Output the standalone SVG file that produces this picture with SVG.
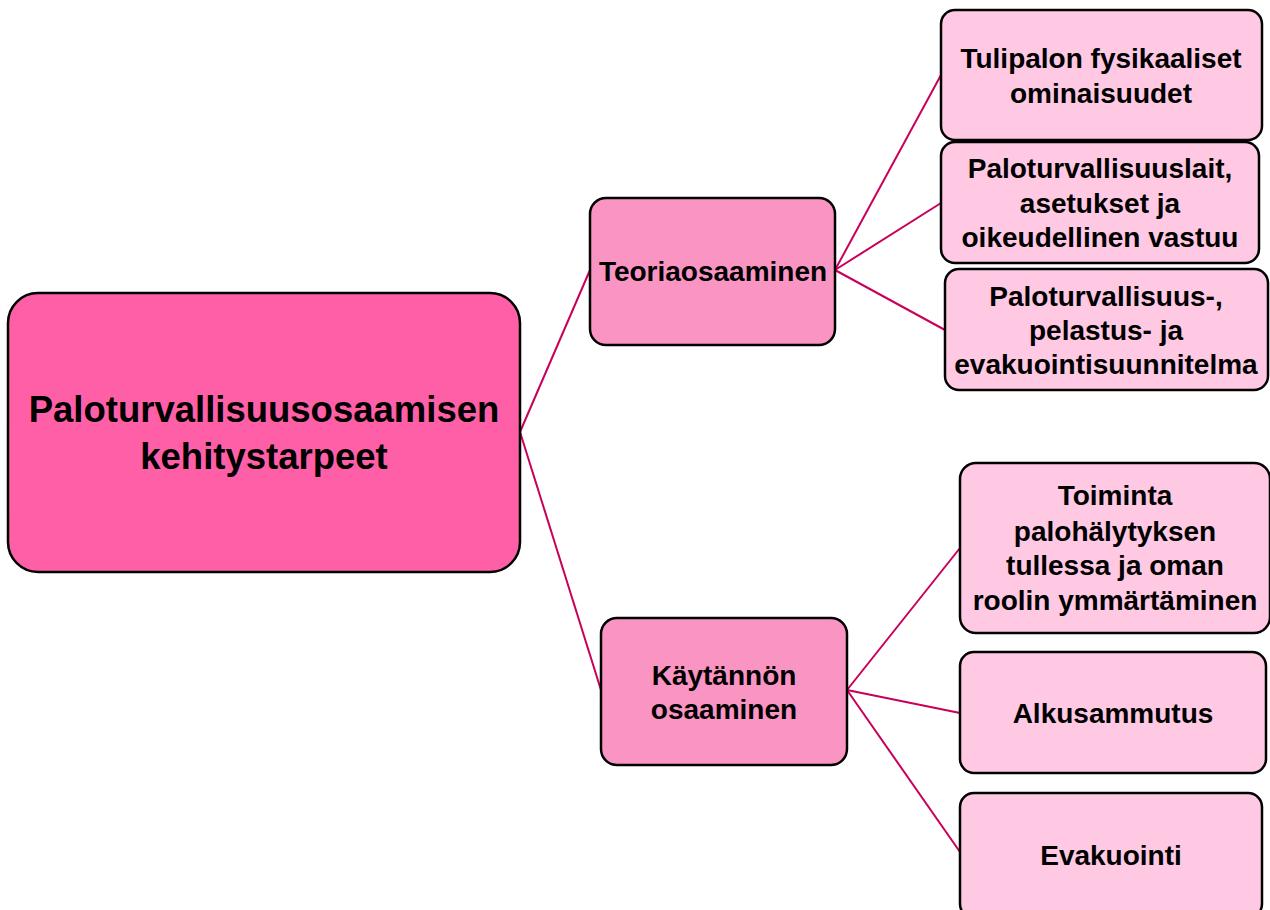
<svg xmlns="http://www.w3.org/2000/svg" width="1270" height="910" viewBox="0 0 1270 910">
<style>
.box{stroke:#000;stroke-width:2.5}
.root{fill:#FF5FA6}
.mid{fill:#FA94C3}
.leaf{fill:#FFC8E3}
text{font-family:"Liberation Sans",sans-serif;font-weight:bold;fill:#000;text-anchor:middle}
.t1{font-size:36.5px}
.t2{font-size:28px}
.conn{stroke:#C8005A;stroke-width:2;fill:none}
</style>
<rect width="1270" height="910" fill="#fff"/>
<g id="connectors">
<line class="conn" x1="520" y1="432" x2="590" y2="270"/>
<line class="conn" x1="520" y1="432" x2="601" y2="690"/>
<line class="conn" x1="835" y1="270" x2="941" y2="75"/>
<line class="conn" x1="835" y1="270" x2="941" y2="203"/>
<line class="conn" x1="835" y1="270" x2="945" y2="330"/>
<line class="conn" x1="847" y1="690" x2="960" y2="548"/>
<line class="conn" x1="847" y1="690" x2="960" y2="713"/>
<line class="conn" x1="847" y1="690" x2="960" y2="852"/>
</g>
<g id="root">
<rect class="box root" x="8" y="293" width="512" height="279" rx="30"/>
<text class="t1" x="264" y="422">Paloturvallisuusosaamisen</text>
<text class="t1" x="264" y="469">kehitystarpeet</text>
</g>
<g id="teoria">
<rect class="box mid" x="590" y="198" width="245" height="147" rx="16"/>
<text class="t2" x="713" y="281">Teoriaosaaminen</text>
</g>
<g id="kaytanto">
<rect class="box mid" x="601" y="618" width="246" height="147" rx="16"/>
<text class="t2" x="724" y="685">Käytännön</text>
<text class="t2" x="724" y="719">osaaminen</text>
</g>
<g id="leaf1">
<rect class="box leaf" x="941" y="10" width="321" height="130" rx="14"/>
<text class="t2" x="1101" y="68">Tulipalon fysikaaliset</text>
<text class="t2" x="1101" y="103">ominaisuudet</text>
</g>
<g id="leaf2">
<rect class="box leaf" x="941" y="142" width="318" height="121" rx="14"/>
<text class="t2" x="1100" y="178">Paloturvallisuuslait,</text>
<text class="t2" x="1100" y="213">asetukset ja</text>
<text class="t2" x="1100" y="247">oikeudellinen vastuu</text>
</g>
<g id="leaf3">
<rect class="box leaf" x="945" y="269" width="323" height="121" rx="14"/>
<text class="t2" x="1106" y="306">Paloturvallisuus-,</text>
<text class="t2" x="1106" y="340">pelastus- ja</text>
<text class="t2" x="1106" y="374">evakuointisuunnitelma</text>
</g>
<g id="leaf4">
<rect class="box leaf" x="960" y="463" width="310" height="170" rx="16"/>
<text class="t2" x="1115" y="505">Toiminta</text>
<text class="t2" x="1115" y="541">palohälytyksen</text>
<text class="t2" x="1115" y="575">tullessa ja oman</text>
<text class="t2" x="1115" y="610">roolin ymmärtäminen</text>
</g>
<g id="leaf5">
<rect class="box leaf" x="960" y="652" width="306" height="121" rx="14"/>
<text class="t2" x="1113" y="723">Alkusammutus</text>
</g>
<g id="leaf6">
<rect class="box leaf" x="960" y="793" width="302" height="125" rx="14"/>
<text class="t2" x="1111" y="865">Evakuointi</text>
</g>
</svg>
